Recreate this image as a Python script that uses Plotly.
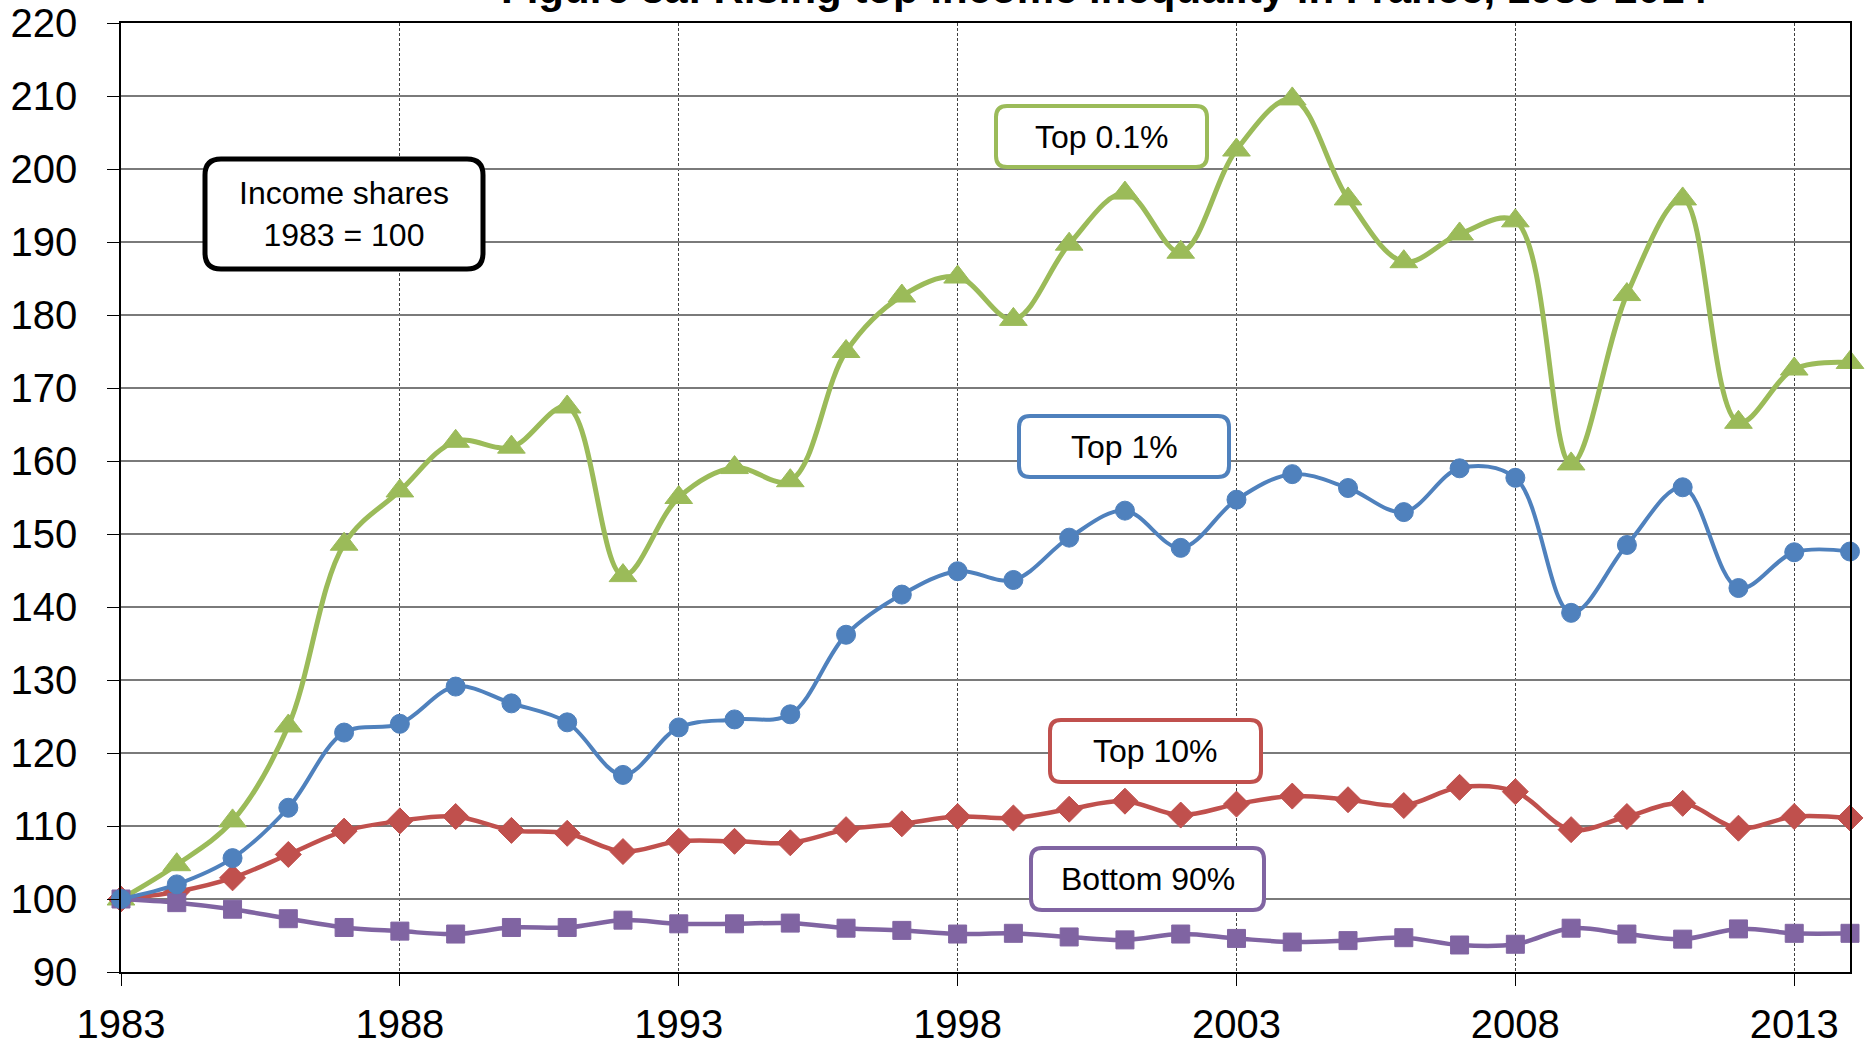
import plotly.graph_objects as go

years = list(range(1983, 2015))

top01 = [100, 104.7, 110.7, 123.7, 148.6, 155.9, 162.7, 161.9, 167.4, 144.3, 155.0, 159.1, 157.3, 175.0,
         182.6, 185.2, 179.4, 189.7, 196.7, 188.6, 202.6, 209.6, 195.9, 187.3, 191.1, 192.9, 159.6, 182.8,
         195.9, 165.3, 172.6, 173.5]
top1 = [100, 102.0, 105.6, 112.5, 122.8, 124.0, 129.1, 126.8, 124.2, 117.0, 123.5, 124.6, 125.3, 136.2,
        141.7, 144.9, 143.7, 149.5, 153.2, 148.1, 154.7, 158.2, 156.3, 153.0, 159.0, 157.7, 139.2, 148.5,
        156.4, 142.6, 147.5, 147.6]
top10 = [100, 101.0, 102.9, 106.1, 109.3, 110.7, 111.3, 109.4, 109.0, 106.5, 107.9, 107.9, 107.7, 109.5,
         110.3, 111.3, 111.1, 112.3, 113.4, 111.5, 113.0, 114.1, 113.6, 112.8, 115.3, 114.7, 109.5, 111.3,
         113.1, 109.7, 111.3, 111.1]
bottom90 = [100, 99.5, 98.6, 97.3, 96.1, 95.6, 95.2, 96.1, 96.1, 97.1, 96.6, 96.6, 96.7, 96.0,
            95.7, 95.2, 95.3, 94.8, 94.4, 95.2, 94.6, 94.1, 94.3, 94.7, 93.7, 93.8, 96.0, 95.2,
            94.5, 95.9, 95.3, 95.3]

x_ticks = [1983, 1988, 1993, 1998, 2003, 2008, 2013]
y_ticks = list(range(90, 221, 10))

title_text = "Figure 8a: Rising top income inequality in France, 1983-2014"
labels = ["Top 0.1%", "Top 1%", "Top 10%", "Bottom 90%"]
note_text = "Income shares<br>1983 = 100"

GREEN = "#9BBB59"
BLUE = "#4F81BD"
RED = "#C0504D"
PURPLE = "#8064A2"
FONT = "Arial, Liberation Sans, sans-serif"

W, H = 1866, 1044
L, R, T, B = 121, 1850, 23, 972

def px(xp):
    return (xp - L) / (R - L)

def py(yp):
    return (B - yp) / (B - T)

fig = go.Figure()

def add_series(y, color, symbol, size, width, name):
    fig.add_trace(go.Scatter(
        x=years, y=y, mode="lines+markers", name=name,
        line=dict(color=color, width=width, shape="spline", smoothing=1.0),
        marker=dict(symbol=symbol, size=size, color=color, line=dict(color=color, width=1)),
        cliponaxis=False, showlegend=False,
    ))

add_series(top01, GREEN, "triangle-up", 24, 5, labels[0])
add_series(top10, RED, "diamond", 20, 4.5, labels[2])
add_series(bottom90, PURPLE, "square", 18, 4.5, labels[3])
add_series(top1, BLUE, "circle", 19, 4, labels[1])

def rounded_box(x0, y0, x1, y1, r, color, lw):
    X0, X1 = px(x0), px(x1)
    Y0, Y1 = py(y0), py(y1)
    rx = r / (R - L)
    ry = r / (B - T)
    path = (f"M {X0+rx},{Y0} L {X1-rx},{Y0} Q {X1},{Y0} {X1},{Y0-ry} "
            f"L {X1},{Y1+ry} Q {X1},{Y1} {X1-rx},{Y1} "
            f"L {X0+rx},{Y1} Q {X0},{Y1} {X0},{Y1+ry} "
            f"L {X0},{Y0-ry} Q {X0},{Y0} {X0+rx},{Y0} Z")
    fig.add_shape(type="path", path=path, xref="paper", yref="paper",
                  line=dict(color=color, width=lw), fillcolor="white", layer="above")

boxes = [
    ((205, 159, 483, 269), "black", 5, 16, note_text),
    ((996, 106, 1207, 167), GREEN, 4, 11, labels[0]),
    ((1019, 416, 1229, 477), BLUE, 4, 11, labels[1]),
    ((1050, 720, 1261, 782), RED, 4, 11, labels[2]),
    ((1031, 848, 1264, 910), PURPLE, 4, 11, labels[3]),
]
for (x0, y0, x1, y1), col, lw, rad, txt in boxes:
    rounded_box(x0, y0, x1, y1, rad, col, lw)
    fig.add_annotation(x=px((x0 + x1) / 2), y=py((y0 + y1) / 2), xref="paper", yref="paper",
                       text=txt, showarrow=False, xanchor="center", yanchor="middle",
                       font=dict(family=FONT, size=32, color="black"))

fig.add_annotation(x=px(1104), y=py(14), xref="paper", yref="paper", text=f"<b>{title_text}</b>",
                   showarrow=False, xanchor="center", yanchor="bottom",
                   font=dict(family=FONT, size=42, color="black"))

fig.update_xaxes(
    range=[1983, 2014], tickvals=x_ticks, ticktext=[str(v) for v in x_ticks],
    showgrid=True, gridcolor="#404040", griddash="3px,2px", gridwidth=1,
    showline=True, linecolor="black", linewidth=1.5, mirror=True,
    ticks="outside", ticklen=12, tickcolor="black", tickwidth=1,
    tickfont=dict(family=FONT, size=40, color="black"), zeroline=False,
    ticklabelstandoff=4,
)
fig.update_yaxes(
    range=[90, 220], tickvals=y_ticks, ticktext=[str(v) for v in y_ticks],
    showgrid=True, gridcolor="#7a7a7a", gridwidth=1.5,
    showline=True, linecolor="black", linewidth=1.5, mirror=True,
    ticks="outside", ticklen=12, tickcolor="black", tickwidth=1,
    tickfont=dict(family=FONT, size=40, color="black"), zeroline=False,
    ticklabelstandoff=22,
)

fig.update_layout(
    width=W, height=H,
    margin=dict(l=L, r=W - R, t=T, b=H - B, autoexpand=False),
    paper_bgcolor="white", plot_bgcolor="white",
    showlegend=False,
)

fig.write_html("out.html", config={"displayModeBar": False},
               post_script="document.body.style.margin='0';document.body.style.padding='0';document.body.style.overflow='hidden';")
